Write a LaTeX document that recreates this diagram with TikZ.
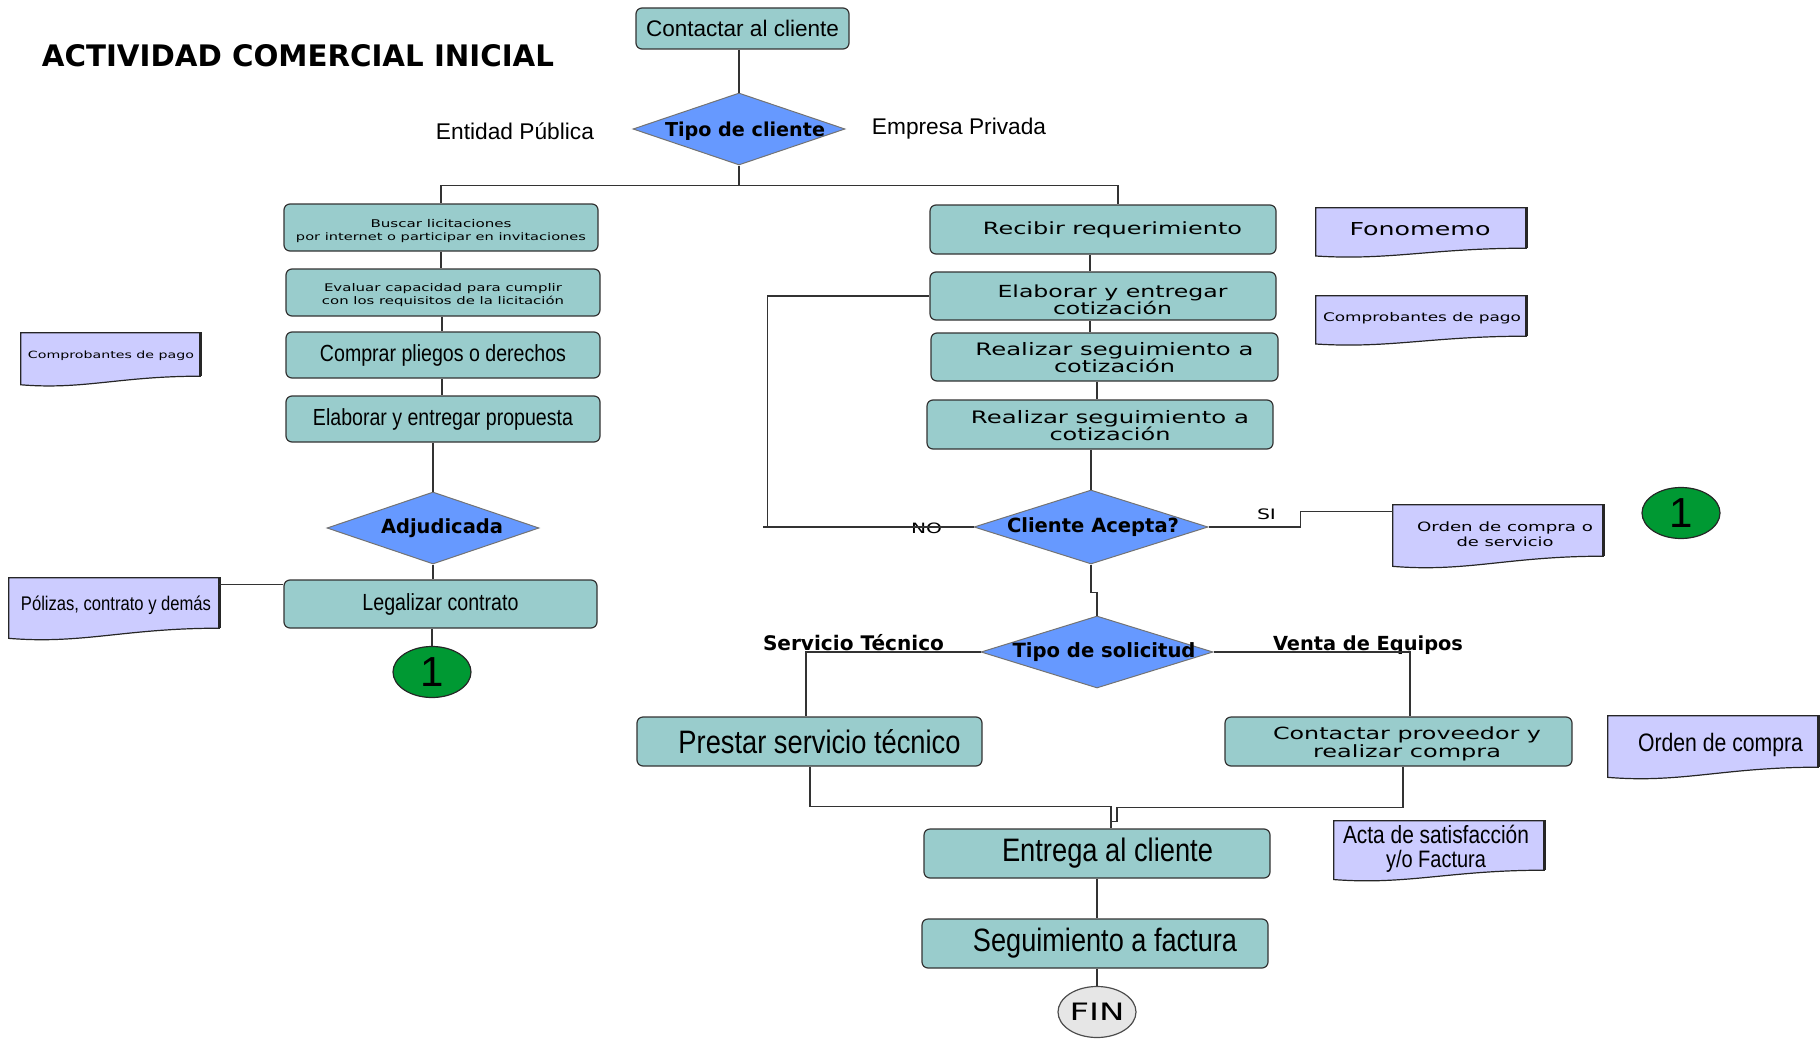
\documentclass[tikz,border=0pt]{standalone}
\usepackage{fontspec}
\usepackage{graphicx}
\setmainfont{Liberation Sans}
\newfontfamily\verd{DejaVu Sans}
\usetikzlibrary{shapes.geometric,calc}
\definecolor{boxc}{RGB}{153,204,204}
\definecolor{diac}{RGB}{102,153,255}
\definecolor{docc}{RGB}{204,204,255}
\definecolor{greenc}{RGB}{0,153,51}
\definecolor{finc}{RGB}{230,230,230}
\newcommand\fw[2]{\resizebox{#1pt}{!}{#2}}
\newcommand\ww[2]{\resizebox{#1pt}{!}{\scalebox{1.42}[1]{\verd #2}}}
\newcommand\nw[2]{\resizebox{#1pt}{!}{\scalebox{0.84}[1]{#2}}}
\newcommand\hv{\verd\bfseries}
\newcommand\dn[2]{\raisebox{-#1pt}[\height][\depth]{#2}}
\newcommand\twol[3]{\vbox{\baselineskip=#3pt\lineskiplimit=-100pt\lineskip=0pt\halign{\hfil##\hfil\cr#1\cr#2\cr}}}
\newcommand\docshape[2]{%
  \filldraw[fill=docc,draw=black!85,line width=1.2pt] (#1.north west) -- (#1.north east) -- (#1.south east)
    .. controls ($(#1.south west)!0.55!(#1.south east)$) and ($(#1.south west)!0.35!(#1.south east)+(0,#2*1.25)$) ..
    ($(#1.south west)+(0,#2*0.78)$) -- cycle;
  \draw[line width=2.6pt,black!85] ($(#1.north east)+(0,-0.5)$) -- (#1.south east);}
\tikzset{
  box/.style={draw=black!80,line width=1.2pt,fill=boxc,rounded corners=6pt,inner sep=0pt},
  dia/.style={diamond,draw=black!55,line width=1pt,fill=diac,inner sep=0pt,aspect=2.9},
  docn/.style={inner sep=0pt},
  conn/.style={draw=black!80,line width=1.2pt},
  lbl/.style={inner sep=0pt},
  onec/.style={ellipse,draw=black!85,line width=1.2pt,fill=greenc,inner sep=0pt,minimum width=78pt,minimum height=51pt,font=\fontsize{42}{42}\selectfont},
}
\begin{document}
\begin{tikzpicture}[x=1pt,y=-1pt]
\useasboundingbox (0,0) rectangle (1820,1041);
% title
\node[lbl] (title) at (298,56) {\resizebox{512pt}{22pt}{\verd\bfseries ACTIVIDAD COMERCIAL INICIAL}};
% top
\node[box,minimum width=213pt,minimum height=41pt] (contact) at (742.5,28.5) {\fw{193}{Contactar al cliente}};
\node[dia,minimum width=212pt,minimum height=72pt] (tipocli) at (739,129) {\makebox[0pt]{\hspace*{12pt}\dn{2}{\fw{160}{\hv Tipo de cliente}}}};
\node[lbl] (entp) at (515,131) {\fw{158}{Entidad Pública}};
\node[lbl] (empp) at (959,129) {\fw{174}{Empresa Privada}};
% left column
\node[box,minimum width=314pt,minimum height=47pt] (buscar) at (441,227.5) {\dn{4}{\twol{\ww{141}{Buscar licitaciones}}{\ww{290}{por internet o participar en invitaciones}}{13}}};
\node[box,minimum width=314pt,minimum height=47pt] (evaluar) at (443,292.5) {\dn{3}{\twol{\ww{238}{Evaluar capacidad para cumplir}}{\ww{242}{con los requisitos de la licitación}}{13}}};
\node[box,minimum width=314pt,minimum height=46pt] (comprar) at (443,355) {\nw{246}{Comprar pliegos o derechos}};
\node[box,minimum width=314pt,minimum height=46pt] (elabprop) at (443,419) {\nw{260}{Elaborar y entregar propuesta}};
\node[dia,minimum width=212pt,minimum height=72pt] (adjud) at (433,528) {\makebox[0pt]{\hspace*{18pt}\fw{122}{\hv Adjudicada}}};
\node[box,minimum width=313pt,minimum height=48pt] (legal) at (440.5,604) {\nw{156}{Legalizar contrato}};
\node[onec] (one1) at (432,672) {1};
% left docs
\node[docn,minimum width=179pt,minimum height=43pt] (comp1) at (110.5,354.5) {};
\docshape{comp1}{11}
\node[docn] (comp1t) at (111,356) {\ww{166}{Comprobantes de pago}};
\node[docn,minimum width=210pt,minimum height=50pt] (polizas) at (114,603) {};
\docshape{polizas}{13}
\node[docn] (polizast) at (116,605) {\nw{190}{Pólizas, contrato y demás}};
% right column
\node[box,minimum width=346pt,minimum height=49pt] (recibir) at (1103,229.5) {\hspace*{19pt}\ww{259}{Recibir requerimiento}};
\node[box,minimum width=346pt,minimum height=48pt] (elabcot) at (1103,296) {\hspace*{19pt}\dn{4}{\twol{\ww{230}{Elaborar y entregar}}{\ww{119}{cotización}}{17}}};
\node[box,minimum width=347pt,minimum height=48pt] (seg1) at (1104.5,357) {\hspace*{20pt}\dn{1}{\twol{\ww{278}{Realizar seguimiento a}}{\ww{121}{cotización}}{17}}};
\node[box,minimum width=346pt,minimum height=49pt] (seg2) at (1100,424.5) {\hspace*{20pt}\dn{1}{\twol{\ww{278}{Realizar seguimiento a}}{\ww{121}{cotización}}{17}}};
\node[dia,minimum width=234pt,minimum height=74pt] (acepta) at (1091,527) {\makebox[0pt]{\hspace*{4pt}\fw{172}{\hv Cliente Acepta?}}};
\node[lbl] (nolbl) at (926.5,528) {\ww{31}{NO}};
\node[lbl] (silbl) at (1266.5,514) {\ww{19}{SI}};
% right docs
\node[docn,minimum width=210pt,minimum height=40pt] (fono) at (1421,228) {};
\docshape{fono}{10}
\node[docn] (fonot) at (1420,229) {\ww{141}{Fonomemo}};
\node[docn,minimum width=210pt,minimum height=40pt] (comp2) at (1421,316) {};
\docshape{comp2}{10}
\node[docn] (comp2t) at (1422,318) {\ww{198}{Comprobantes de pago}};
\node[docn,minimum width=210pt,minimum height=51pt] (orden1) at (1498,530.5) {};
\docshape{orden1}{13}
\node[docn] (orden1t) at (1505,534) {\twol{\ww{176}{Orden de compra o}}{\ww{97}{de servicio}}{15}};
\node[onec] (one2) at (1681,513) {1};
% solicitud
\node[dia,minimum width=232pt,minimum height=72pt] (tiposol) at (1097,652) {\makebox[0pt]{\hspace*{14pt}\fw{183}{\hv Tipo de solicitud}}};
\node[lbl] (stlbl) at (853.5,643) {\fw{181}{\hv Servicio Técnico}};
\node[lbl] (velbl) at (1368,645) {\fw{190}{\hv Venta de Equipos}};
\node[box,minimum width=345pt,minimum height=49pt] (prestar) at (809.5,741.5) {\hspace*{20pt}\nw{282}{Prestar servicio técnico}};
\node[box,minimum width=347pt,minimum height=49pt] (contprov) at (1398.5,741.5) {\hspace*{17pt}\dn{2}{\twol{\ww{268}{Contactar proveedor y}}{\ww{188}{realizar compra}}{18}}};
\node[docn,minimum width=210pt,minimum height=51pt] (ordcompra) at (1713,741.5) {};
\docshape{ordcompra}{13}
\node[docn] (ordcomprat) at (1720.5,745) {\nw{165}{Orden de compra}};
\node[box,minimum width=346pt,minimum height=49pt] (entrega) at (1097,853.5) {\hspace*{21pt}\nw{211}{Entrega al cliente}};
\node[docn,minimum width=210pt,minimum height=49pt] (acta) at (1439,845.5) {};
\docshape{acta}{12}
\node[docn] (actat) at (1436,849) {\twol{\nw{186}{Acta de satisfacción}}{\nw{100}{y/o Factura}}{24}};
\node[box,minimum width=346pt,minimum height=49pt] (seguim) at (1095,943.5) {\hspace*{20pt}\nw{264}{Seguimiento a factura}};
\node[ellipse,draw=black!70,line width=1.2pt,fill=finc,minimum width=78pt,minimum height=51pt,inner sep=0pt] (fin) at (1097,1012) {\ww{55}{FIN}};
% connectors
\draw[conn] (contact.south -| tipocli.north) -- (tipocli.north);
\draw[conn] (tipocli.south) -- ++(0,20) coordinate (j1);
\draw[conn] (buscar.north) |- (j1);
\draw[conn] (j1) -| ($(recibir.north)+(15,0)$);
\draw[conn] (buscar.south) -- (buscar.south |- evaluar.north);
\draw[conn] ($(evaluar.south)+(-1,0)$) -- ($(comprar.north)+(-1,0)$);
\draw[conn] ($(comprar.south)+(-1,0)$) -- ($(elabprop.north)+(-1,0)$);
\draw[conn] (adjud.north |- elabprop.south) -- (adjud.north);
\draw[conn] (adjud.south) -- (adjud.south |- legal.north);
\draw[conn] (one1.north |- legal.south) -- (one1.north);
\draw[conn] ($(polizas.north east)+(0,7)$) coordinate (pz) -- (pz -| legal.west);
\draw[conn] ($(recibir.south)+(-13,0)$) -- ($(elabcot.north)+(-13,0)$);
\draw[conn] ($(elabcot.south)+(-13,0)$) -- ($(seg1.north)+(-14.5,0)$);
\draw[conn] ($(seg1.south)+(-7.5,0)$) -- ($(seg2.north)+(-3,0)$);
\draw[conn] (acepta.north |- seg2.south) -- (acepta.north);
\draw[conn] (acepta.west) -- ($(acepta.west)+(-211,0)$);
\draw[conn] ($(acepta.west)+(-206,0)$) |- (elabcot.west);
\draw[conn] (acepta.east) -- ++(92,0) |- ($(orden1.north west)+(0,7)$);
\draw[conn] (acepta.south) -- ++(0,28) -| (tiposol.north);
\draw[conn] (tiposol.west) -| ($(prestar.north)+(-3.5,0)$);
\draw[conn] (tiposol.east) -| ($(contprov.north)+(11.5,0)$);
\draw[conn] ($(prestar.south)+(0.5,0)$) -- ++(0,40) -| ($(entrega.north)+(14,0)$);
\draw[conn] ($(contprov.south)+(4.5,0)$) -- ++(0,41) -| ($(entrega.north)+(20,-7)$) -| ($(entrega.north)+(14,0)$);
\draw[conn] (entrega.south) -- (entrega.south |- seguim.north);
\draw[conn] (fin.north |- seguim.south) -- (fin.north);
\end{tikzpicture}
\end{document}
